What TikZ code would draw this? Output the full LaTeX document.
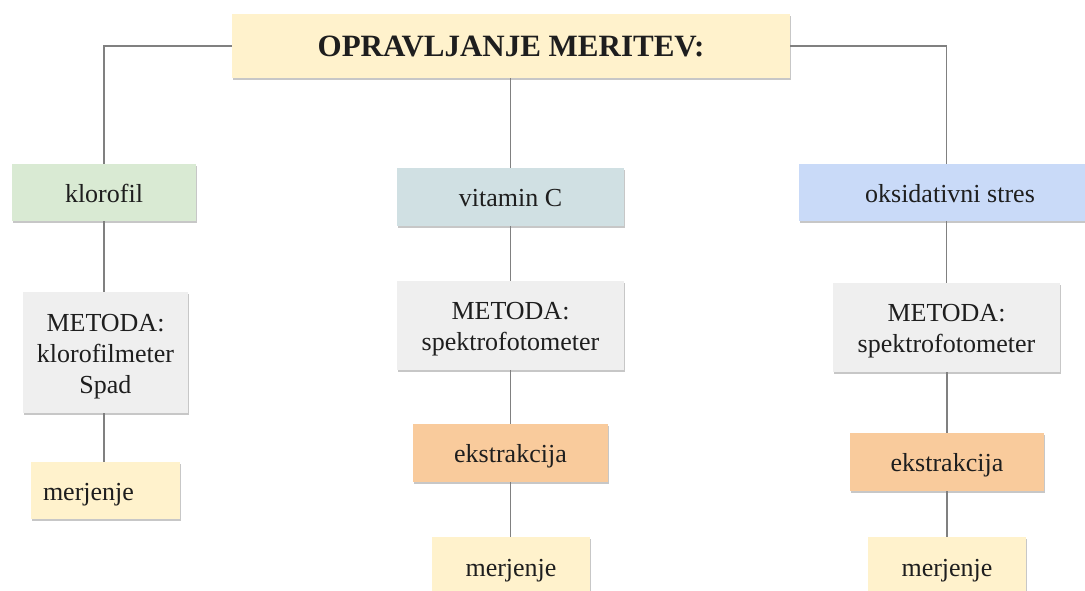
\documentclass[tikz,border=0pt]{standalone}
\usepackage{fontspec}
\setmainfont{Liberation Serif}
\usetikzlibrary{shadows}
\definecolor{cyellow}{HTML}{FFF2CC}
\definecolor{cgreen}{HTML}{D9EAD3}
\definecolor{cteal}{HTML}{D0E0E3}
\definecolor{cblue}{HTML}{C9DAF8}
\definecolor{cgray}{HTML}{EFEFEF}
\definecolor{corange}{HTML}{F9CB9C}
\definecolor{cline}{HTML}{808080}
\definecolor{ctext}{HTML}{1E1E1E}
\newcommand\lstrut{\rule[-6pt]{0pt}{31pt}}
\newcommand\tstrut{\rule[-7pt]{0pt}{36pt}}
\tikzset{
  box/.style={rectangle, inner sep=0pt, align=center, text=ctext,
    font=\fontsize{26}{31}\selectfont,
    drop shadow={shadow xshift=1.2pt, shadow yshift=-2.4pt, fill=black, opacity=0.22}},
  conn/.style={draw=cline, line width=1.3pt},
}
\begin{document}
\begin{tikzpicture}[x=1pt,y=-1pt]
\useasboundingbox (0,0) rectangle (1085,591);
\clip (0,0) rectangle (1085,591);
% nodes
\node[box, fill=cyellow, minimum width=558pt, minimum height=64pt,
  font=\fontsize{31}{36}\selectfont\bfseries] (top) at (511,46) {\tstrut OPRAVLJANJE MERITEV:};
\node[box, fill=cgreen, minimum width=184pt, minimum height=57pt] (kl) at (104,192.5) {\lstrut klorofil};
\node[box, fill=cteal, minimum width=227pt, minimum height=58pt] (vc) at (510.5,197) {\lstrut vitamin C};
\node[box, fill=cblue, minimum width=302pt, minimum height=57pt] (os) at (950,192.5) {\lstrut oksidativni stres};
\node[box, fill=cgray, minimum width=165pt, minimum height=121pt] (m1) at (105.5,352.5) {\lstrut METODA:\\\lstrut klorofilmeter\\\lstrut Spad};
\node[box, fill=cyellow, minimum width=149pt, minimum height=57pt, text width=125pt, align=left, inner xsep=12pt] (r1) at (105.5,490.5) {\lstrut merjenje};
\node[box, fill=cgray, minimum width=227pt, minimum height=89pt] (m2) at (510.5,325.5) {\lstrut METODA:\\\lstrut spektrofotometer};
\node[box, fill=corange, minimum width=195pt, minimum height=58pt] (e2) at (510.5,453) {\lstrut ekstrakcija};
\node[box, fill=cyellow, minimum width=158pt, minimum height=60pt] (r2) at (511,567) {\lstrut merjenje};
\node[box, fill=cgray, minimum width=227pt, minimum height=89pt] (m3) at (946.5,327.5) {\lstrut METODA:\\\lstrut spektrofotometer};
\node[box, fill=corange, minimum width=194pt, minimum height=58pt] (e3) at (947,462) {\lstrut ekstrakcija};
\node[box, fill=cyellow, minimum width=158pt, minimum height=60pt] (r3) at (947,567) {\lstrut merjenje};
% connectors
\draw[conn] (top.west) -- (kl.north |- top.west) -- (kl.north);
\draw[conn] (top.east) -- (m3.north |- top.east) -- (m3.north |- os.north);
\draw[conn] (top.south -| vc.north) -- (vc.north);
\draw[conn] (kl.south) -- (kl.south |- m1.north);
\draw[conn] (kl.south |- m1.south) -- (kl.south |- r1.north);
\draw[conn] (vc.south) -- (vc.south |- m2.north);
\draw[conn] (vc.south |- m2.south) -- (vc.south |- e2.north);
\draw[conn] (vc.south |- e2.south) -- (vc.south |- r2.north);
\draw[conn] (m3.north |- os.south) -- (m3.north);
\draw[conn] (m3.south -| e3.north) -- (e3.north);
\draw[conn] (e3.south) -- (r3.north);
\end{tikzpicture}
\end{document}
